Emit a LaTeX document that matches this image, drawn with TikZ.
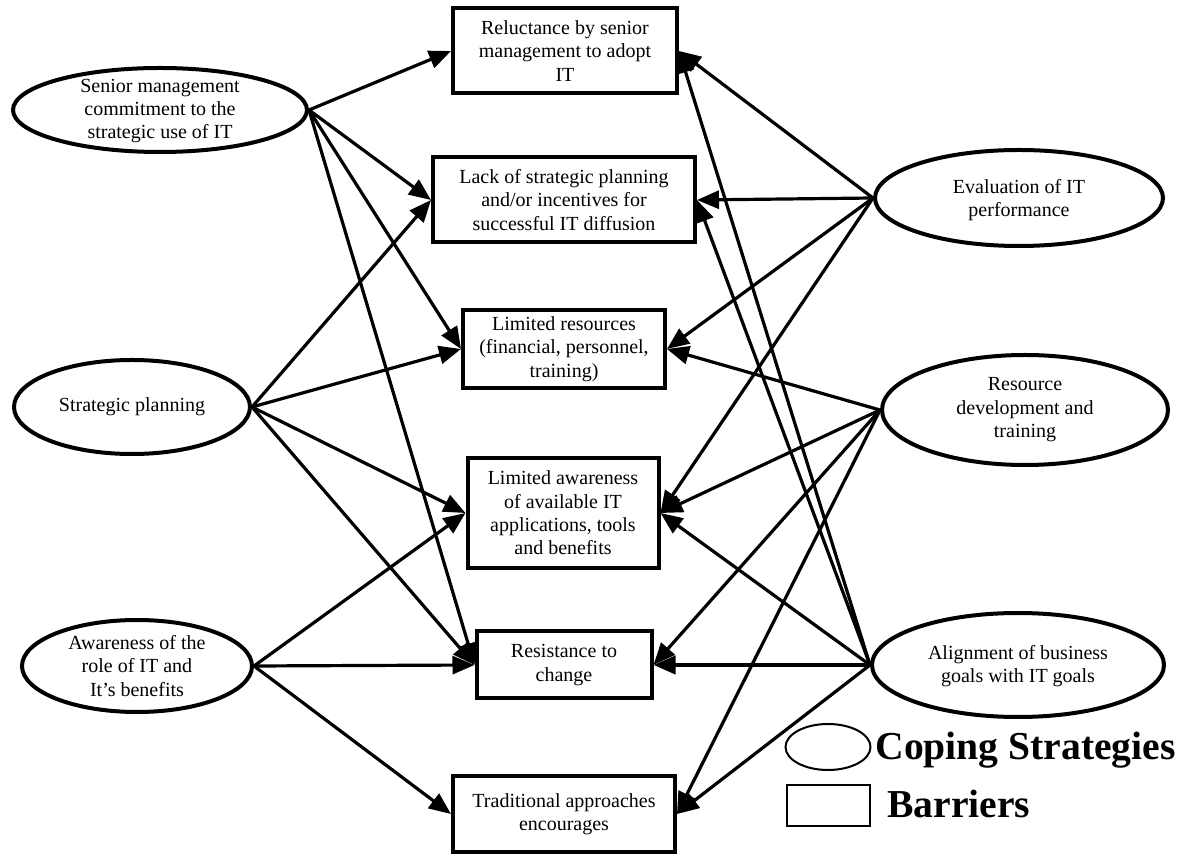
\documentclass[tikz,border=0pt]{standalone}
\usepackage{fontspec}
\setmainfont{Liberation Serif}
\usetikzlibrary{shapes.geometric,arrows.meta}
\begin{document}
\begin{tikzpicture}[x=0.5pt,y=-0.5pt,
  ell/.style={draw,ellipse,line width=2pt,inner sep=0pt},
  txt/.style={align=center,font=\fontsize{10}{11.7}\selectfont,inner sep=0pt},
  bar/.style={draw,rectangle,line width=2pt,align=center,font=\fontsize{10}{11.7}\selectfont},
  conn/.style={line width=1.6pt,-{Triangle[length=11pt,width=9pt]}},
  legtxt/.style={font=\fontsize{19.8}{24}\selectfont\bfseries,inner sep=0pt,anchor=base west}]
\useasboundingbox (0,0) rectangle (1183,854);
% coping strategies (ellipses)
\node[ell,minimum width=147pt,minimum height=42pt] (e1) at (160,110) {};
\node[txt] (e1t) at (160,111) {Senior management\\commitment to the\\strategic use of IT};
\node[ell,minimum width=118pt,minimum height=47pt] (e2) at (132,407) {};
\node[txt] (e2t) at (132,407) {Strategic planning};
\node[ell,minimum width=115pt,minimum height=46pt] (e3) at (137,666) {};
\node[txt] (e3t) at (137,666) {Awareness of the\\role of IT and\\It’s benefits};
\node[ell,minimum width=144pt,minimum height=48pt] (e4) at (1019,198) {};
\node[txt] (e4t) at (1019,200) {Evaluation of IT\\performance};
\node[ell,minimum width=143pt,minimum height=55pt] (e5) at (1025,410) {};
\node[txt] (e5t) at (1025,410) {Resource\\development and\\training};
\node[ell,minimum width=146pt,minimum height=52pt] (e6) at (1018,665) {};
\node[txt] (e6t) at (1018,666) {Alignment of business\\goals with IT goals};
% barriers (boxes)
\node[bar,minimum width=112pt,minimum height=42.5pt] (b1) at (565,51) {Reluctance by senior\\management to adopt\\IT};
\node[bar,minimum width=131pt,minimum height=42.5pt] (b2) at (564,200) {Lack of strategic planning\\and/or incentives for\\successful IT diffusion};
\node[bar,minimum width=101pt,minimum height=37.5pt] (b3) at (564,349) {Limited resources\\(financial, personnel,\\training)};
\node[bar,minimum width=95.5pt,minimum height=55pt] (b4) at (563,513) {Limited awareness\\of available IT\\applications, tools\\and benefits};
\node[bar,minimum width=87.5pt,minimum height=33.5pt] (b5) at (564,665) {Resistance to\\change};
\node[bar,minimum width=111pt,minimum height=38pt] (b6) at (564,814) {Traditional approaches\\encourages};
% connectors from left
\draw[conn] (e1.east) -- (b1.west);
\draw[conn] (e1.east) -- (b2.west);
\draw[conn] (e1.east) -- (b3.west);
\draw[conn] (e1.east) -- (b5.west);
\draw[conn] (e2.east) -- (b2.west);
\draw[conn] (e2.east) -- (b3.west);
\draw[conn] (e2.east) -- (b4.west);
\draw[conn] (e2.east) -- (b5.west);
\draw[conn] (e3.east) -- (b4.west);
\draw[conn] (e3.east) -- (b5.west);
\draw[conn] (e3.east) -- (b6.west);
% connectors from right
\draw[conn] (e4.west) -- (b1.east);
\draw[conn] (e4.west) -- (b2.east);
\draw[conn] (e4.west) -- (b3.east);
\draw[conn] (e4.west) -- (b4.east);
\draw[conn] (e5.west) -- (b3.east);
\draw[conn] (e5.west) -- (b4.east);
\draw[conn] (e5.west) -- (b5.east);
\draw[conn] (e5.west) -- (b6.east);
\draw[conn] (e6.west) -- (b1.east);
\draw[conn] (e6.west) -- (b2.east);
\draw[conn] (e6.west) -- (b4.east);
\draw[conn,line width=2pt] (e6.west) -- (b5.east);
\draw[conn] (e6.west) -- (b6.east);
% legend
\node[draw,ellipse,line width=1pt,minimum width=42.5pt,minimum height=23pt,inner sep=0pt] (lege) at (828,747) {};
\node[legtxt] (legetxt) at (875,760) {Coping Strategies};
\node[draw,rectangle,line width=1.2pt,minimum width=41.5pt,minimum height=20.5pt,inner sep=0pt] (legb) at (828.5,805.5) {};
\node[legtxt] (legbtxt) at (887,817) {Barriers};
\end{tikzpicture}
\end{document}
